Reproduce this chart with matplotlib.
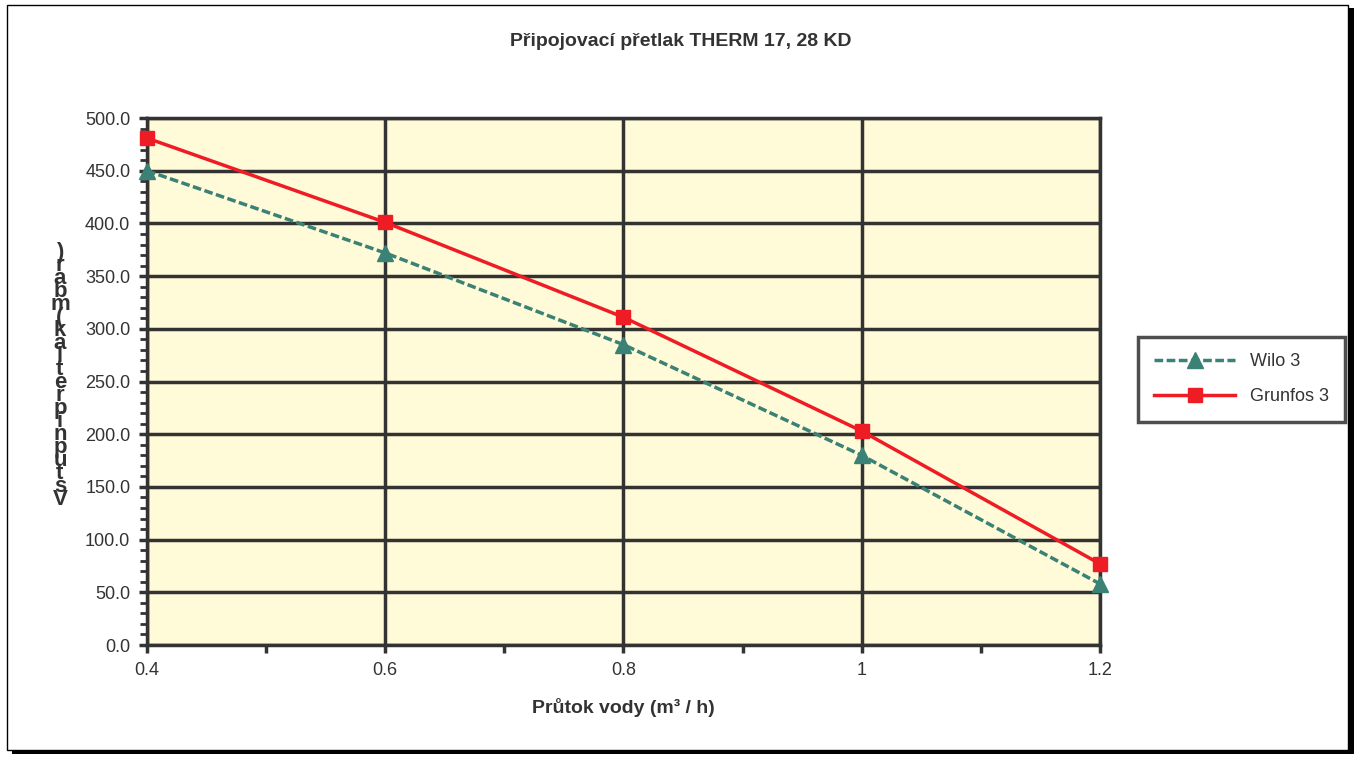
import matplotlib.pyplot as plt
from matplotlib.patches import Rectangle
from matplotlib.ticker import MultipleLocator

plt.rcParams['font.family'] = ['Liberation Sans', 'DejaVu Sans']

# data
flow = [0.4, 0.6, 0.8, 1.0, 1.2]
wilo = [450, 372, 285, 180, 58]
grunfos = [481, 401, 311, 203, 77]
x_ticks = [0.4, 0.6, 0.8, 1.0, 1.2]
x_labels = ['0.4', '0.6', '0.8', '1', '1.2']

text_col = '#333333'
grid_col = '#333333'

fig = plt.figure(figsize=(13.62, 7.6), dpi=100)
ax = fig.add_axes([0.1079, 0.1513, 0.6997, 0.6934])
ax.set_facecolor('#FFFAD7')

ax.plot(flow, wilo, color='#3A8275', linestyle=(0, (2.5, 1)), linewidth=2.5,
        marker='^', markersize=11, label='Wilo 3', zorder=3, clip_on=False)
ax.plot(flow, grunfos, color='#EE1C25', linewidth=2.5,
        marker='s', markersize=10, label='Grunfos 3', zorder=4, clip_on=False)

ax.set_xlim(0.4, 1.2)
ax.set_ylim(0, 500)
ax.set_xticks(x_ticks)
ax.set_xticklabels(x_labels)
ax.xaxis.set_minor_locator(MultipleLocator(0.1))
ax.yaxis.set_major_locator(MultipleLocator(50))
ax.yaxis.set_minor_locator(MultipleLocator(10))
ax.yaxis.set_major_formatter(lambda v, p: f'{v:.1f}')

ax.grid(True, which='major', color=grid_col, linewidth=2.5)
ax.set_axisbelow(True)
for s in ax.spines.values():
    s.set_color(grid_col)
    s.set_linewidth(2.5)
ax.tick_params(which='major', direction='out', length=6, width=2.5, color=grid_col,
               labelsize=13, labelcolor=text_col, pad=6)
ax.tick_params(which='minor', direction='out', length=5, width=2, color=grid_col)
ax.tick_params(axis='x', which='minor', length=6, width=2.5)

ax.set_xlabel('Průtok vody (m³ / h)', fontsize=14, fontweight='bold', color=text_col, labelpad=14)

# stacked vertical y-label, letters upright, bottom to top
ylab = 'Vstupnípřetlak(mbar)'
fig.text(0.044, 0.505, '\n'.join(reversed(ylab)), fontsize=16, fontweight='bold',
         color=text_col, ha='center', va='center', linespacing=0.5)

fig.text(0.5, 0.945, 'Připojovací přetlak THERM 17, 28 KD', fontsize=14,
         fontweight='bold', color=text_col, ha='center', va='center')

leg = fig.legend(loc='center left', bbox_to_anchor=(0.8355, 0.501), fontsize=13,
                 fancybox=False, edgecolor='#222222', handlelength=4.5,
                 borderpad=0.9, labelspacing=1.0, labelcolor=text_col,
                 borderaxespad=0)
leg.get_frame().set_linewidth(2.5)

# outer frame with shadow
fig.add_artist(Rectangle((0.009, 0.008), 0.985, 0.982, transform=fig.transFigure,
                         facecolor='black', edgecolor='none', zorder=-2))
fig.add_artist(Rectangle((0.005, 0.013), 0.985, 0.980, transform=fig.transFigure,
                         facecolor='white', edgecolor='black', linewidth=1, zorder=-1))

plt.savefig('out.png', dpi=100)
